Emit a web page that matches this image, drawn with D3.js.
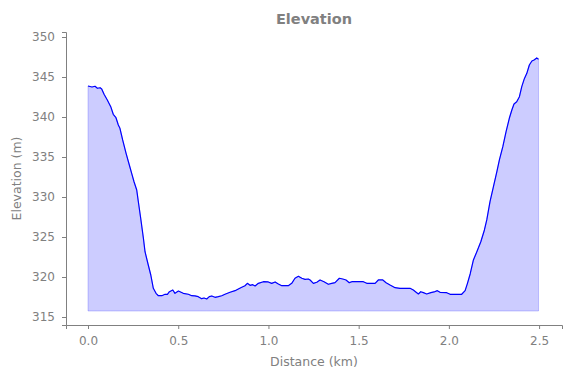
<!DOCTYPE html>
<html>
<head>
<meta charset="utf-8">
<script src="https://cdn.jsdelivr.net/npm/d3@7"></script>
<style>
  body { margin: 0; background: #fff; }
  .container text { font-family: "DejaVu Sans", sans-serif; fill: #808080; }
  .axis path, .axis line { stroke: #808080; }
</style>
</head>
<body>
<div class="container"></div>
<script>
// distance along the track (km)
var distance = [0.000, 0.022, 0.039, 0.052, 0.067, 0.076, 0.089, 0.107, 0.126, 0.140,
  0.155, 0.168, 0.177, 0.192, 0.211, 0.229, 0.242, 0.255, 0.270, 0.279,
  0.292, 0.307, 0.316, 0.334, 0.348, 0.362, 0.377, 0.390, 0.409, 0.427,
  0.440, 0.451, 0.470, 0.482, 0.501, 0.528, 0.556, 0.575, 0.593, 0.611,
  0.630, 0.643, 0.658, 0.672, 0.686, 0.704, 0.722, 0.741, 0.759, 0.787,
  0.815, 0.833, 0.852, 0.870, 0.883, 0.898, 0.913, 0.926, 0.944, 0.972,
  0.999, 1.018, 1.037, 1.055, 1.074, 1.110, 1.129, 1.147, 1.166, 1.185,
  1.203, 1.221, 1.231, 1.249, 1.268, 1.286, 1.308, 1.332, 1.351, 1.369,
  1.393, 1.412, 1.430, 1.448, 1.462, 1.526, 1.545, 1.591, 1.609, 1.634,
  1.652, 1.674, 1.702, 1.729, 1.785, 1.803, 1.822, 1.831, 1.844, 1.859,
  1.877, 1.900, 1.918, 1.936, 1.951, 1.988, 2.007, 2.071, 2.090, 2.103,
  2.118, 2.136, 2.155, 2.177, 2.197, 2.210, 2.228, 2.247, 2.266, 2.280,
  2.299, 2.317, 2.335, 2.349, 2.361, 2.376, 2.391, 2.404, 2.417, 2.432,
  2.446, 2.460, 2.472, 2.487, 2.497];

// elevation (m)
var elevation = [343.88, 343.75, 343.84, 343.59, 343.66, 343.50, 342.84, 342.13, 341.29, 340.34,
  339.91, 339.00, 338.59, 337.13, 335.46, 334.00, 332.96, 331.91, 330.88, 329.41,
  327.34, 324.84, 323.16, 321.50, 320.25, 318.59, 317.96, 317.66, 317.66, 317.84,
  317.84, 318.16, 318.38, 317.96, 318.25, 317.96, 317.84, 317.66, 317.63, 317.54,
  317.29, 317.38, 317.25, 317.54, 317.63, 317.46, 317.54, 317.66, 317.84, 318.09,
  318.29, 318.50, 318.71, 318.91, 319.21, 318.96, 319.04, 318.88, 319.21, 319.41,
  319.38, 319.21, 319.38, 319.13, 318.91, 318.91, 319.21, 319.84, 320.09, 319.84,
  319.71, 319.75, 319.63, 319.21, 319.34, 319.63, 319.41, 319.09, 319.21, 319.29,
  319.84, 319.75, 319.63, 319.29, 319.41, 319.41, 319.21, 319.21, 319.63, 319.63,
  319.29, 319.00, 318.66, 318.59, 318.59, 318.38, 318.04, 317.88, 318.16, 318.04,
  317.88, 318.04, 318.13, 318.29, 318.09, 318.04, 317.84, 317.84, 318.29, 319.21,
  320.38, 322.13, 323.16, 324.41, 325.88, 327.13, 329.41, 331.29, 333.16, 334.63,
  336.29, 338.16, 339.84, 340.88, 341.63, 341.91, 342.54, 343.79, 344.71, 345.46,
  346.50, 347.00, 347.13, 347.38, 347.21];

var xTicks = [0, 0.5, 1.0, 1.5, 2.0, 2.5];
var yTicks = [315, 320, 325, 330, 335, 340, 345, 350];
var fillBase = 315.75;

const WIDTH = 571;
const HEIGHT = 378;
const LEFT = 66, RIGHT = 562, TOP = 32, BOTTOM = 325;

var translate = function(x, y){
  return "translate(" + x + "," + y + ")";
};

var _xScale = d3.scaleLinear()
  .domain([-0.122, 2.627])
  .range([LEFT, RIGHT]);

var _yScale = d3.scaleLinear()
  .domain([314, 350.625])
  .range([BOTTOM, TOP]);

var _xAxis = d3.axisBottom(_xScale).tickValues(xTicks).tickFormat(d3.format(".1f")).tickSizeOuter(0).tickSize(4).tickPadding(7);
var _yAxis = d3.axisLeft(_yScale).tickValues(yTicks).tickFormat(d3.format("d")).tickSizeOuter(0).tickSize(4).tickPadding(7);

var points = distance.map(function(d, i){ return [d, elevation[i]]; });

var line = d3.line()
  .x(function(d){ return _xScale(d[0]); })
  .y(function(d){ return _yScale(d[1]); });

var area = d3.area()
  .x(function(d){ return _xScale(d[0]); })
  .y0(_yScale(fillBase))
  .y1(function(d){ return _yScale(d[1]); });

var loadChart = function(){
  var svg = d3.select('.container').append('svg')
    .attr('width', WIDTH)
    .attr('height', HEIGHT);

  svg.append('path')
    .datum(points)
    .attr('d', area)
    .attr('fill', 'rgba(0,0,255,0.2)')
    .attr('stroke', 'rgba(0,0,255,0.2)')
    .attr('stroke-width', 1);

  svg.append('path')
    .datum(points)
    .attr('d', line)
    .attr('fill', 'none')
    .attr('stroke', '#0000ff')
    .attr('stroke-width', 1.2)
    .attr('stroke-linejoin', 'round');

  var gx = svg.append('g')
    .attr('class', 'axis')
    .attr('transform', translate(0, BOTTOM))
    .call(_xAxis);
  gx.selectAll('text').style('font-size', '12px');

  var gy = svg.append('g')
    .attr('class', 'axis')
    .attr('transform', translate(LEFT, 0))
    .call(_yAxis);
  gy.selectAll('text').style('font-size', '12px');

  svg.append('text')
    .attr('x', (LEFT + RIGHT) / 2)
    .attr('y', 24)
    .attr('text-anchor', 'middle')
    .style('font-size', '14.5px')
    .style('font-weight', 'bold')
    .text('Elevation');

  svg.append('text')
    .attr('x', (LEFT + RIGHT) / 2)
    .attr('y', 366)
    .attr('text-anchor', 'middle')
    .style('font-size', '12.5px')
    .text('Distance (km)');

  svg.append('text')
    .attr('transform', translate(21, (TOP + BOTTOM) / 2) + ' rotate(-90)')
    .attr('text-anchor', 'middle')
    .style('font-size', '12.5px')
    .text('Elevation (m)');
};

window.onload = loadChart;
</script>
</body>
</html>
